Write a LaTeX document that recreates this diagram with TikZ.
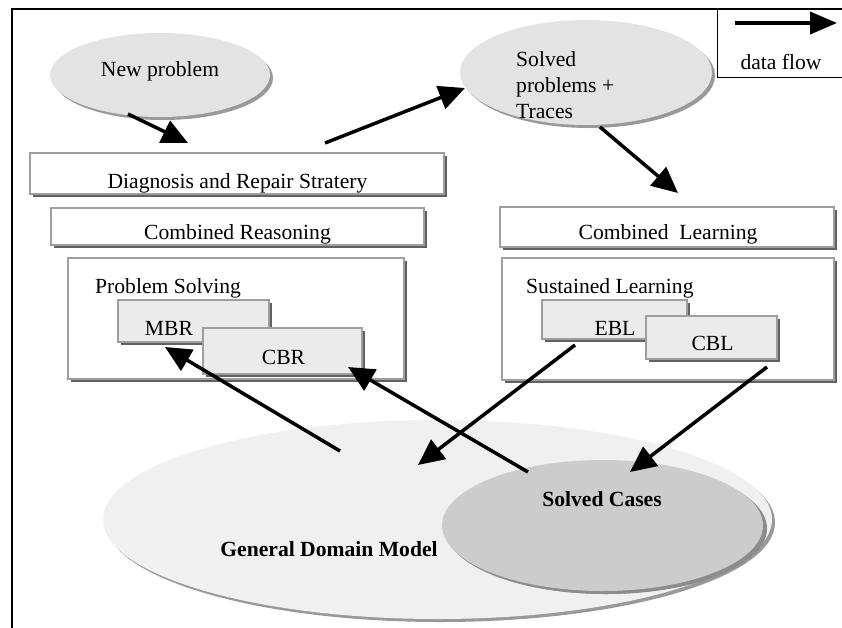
\documentclass[tikz,border=0pt]{standalone}
\usepackage{fontspec}
\setmainfont{Liberation Serif}
\usetikzlibrary{arrows.meta,shapes.geometric,shadows}
\begin{document}
\begin{tikzpicture}[x=1pt,y=-1pt,
  txt/.style={font=\fontsize{21.6}{26}\selectfont, inner sep=0pt, anchor=base},
  btxt/.style={txt, font=\fontsize{21.6}{26}\selectfont\bfseries},
  bevel/.style={rectangle, draw=black!38, line width=1.5pt, fill=white, inner sep=0pt, outer sep=0pt,
     general shadow={fill=black!62, shadow xshift=2.5pt, shadow yshift=-2.5pt}},
  subbox/.style={bevel, fill=black!8},
  oval/.style={ellipse, inner sep=0pt, outer sep=0pt, draw=none,
     general shadow={fill=black!40, shadow xshift=3pt, shadow yshift=-3pt}},
  flow/.style={line width=3.5pt, -{Triangle[length=26pt,width=24pt]}},
]
\useasboundingbox (0,0) rectangle (842,627);
\fill[white] (0,0) rectangle (842,627);
% outer frame
\draw[line width=1.6pt] (12,628) -- (12,9) -- (843,9);
% legend
\node[draw, line width=1.2pt, minimum width=127pt, minimum height=68pt, inner sep=0pt, anchor=north west] (legend) at (717,9) {};
\coordinate (lgs) at (735,23);
\coordinate (lge) at (837,23);
\draw[line width=4pt, -{Triangle[length=27pt,width=22pt]}] (lgs) -- (lge);
\node[txt] (lgt) at (781,69) {data flow};

% top ellipses
\node[oval, fill=black!11, minimum width=220pt, minimum height=84pt] (newp) at (160,75) {};
\node[txt] (newpt) at (160,76) {New problem};
\node[oval, fill=black!11, minimum width=252pt, minimum height=105pt] (solp) at (586,72.5) {};
\node[txt, anchor=north west, align=left] (solpt) at (516,51) {Solved\\problems +\\Traces};

% bottom ellipses
\node[oval, fill=black!6, minimum width=669pt, minimum height=199pt] (gdm) at (437.5,519.5) {};
\node[oval, fill=black!20, minimum width=321pt, minimum height=131pt,
      general shadow={fill=black!45, shadow xshift=4pt, shadow yshift=-3pt}] (sc) at (602.5,525.5) {};
\node[btxt] (gdmt) at (329,556) {General Domain Model};
\node[btxt] (sct) at (602,506) {Solved Cases};

% left column
\node[bevel, minimum width=414pt, minimum height=41pt] (diag) at (237,173.5) {};
\node[txt] (diagt) at (237.5,188) {Diagnosis and Repair Stratery};
\node[bevel, minimum width=373pt, minimum height=37pt] (creas) at (237.5,226.5) {};
\node[txt] (creast) at (237.5,239) {Combined Reasoning};
\node[bevel, minimum width=336pt, minimum height=121pt] (ps) at (236,318.5) {};
\node[txt, anchor=base west] (pst) at (95,293) {Problem Solving};
\node[subbox, minimum width=151pt, minimum height=42pt] (mbr) at (193.5,321) {};
\node[txt] (mbrt) at (169,335) {MBR};
\node[subbox, minimum width=159pt, minimum height=46pt] (cbr) at (282.5,351) {};
\node[txt] (cbrt) at (283.5,364) {CBR};

% right column
\node[bevel, minimum width=334pt, minimum height=40pt] (clearn) at (667,227) {};
\node[txt] (clearnt) at (668,239) {Combined\ \ Learning};
\node[bevel, minimum width=332pt, minimum height=122pt] (sl) at (668,319) {};
\node[txt, anchor=base west] (slt) at (526,293) {Sustained Learning};
\node[subbox, minimum width=145pt, minimum height=39pt] (ebl) at (614.5,319.5) {};
\node[txt] (eblt) at (615,335) {EBL};
\node[subbox, minimum width=131pt, minimum height=43pt] (cbl) at (711.5,337.5) {};
\node[txt] (cblt) at (712.5,350) {CBL};

% arrows
\coordinate (a1s) at (128,114);  \coordinate (a1e) at (188,143);
\coordinate (a2s) at (325,143);  \coordinate (a2e) at (465,88);
\coordinate (a3s) at (600,127);  \coordinate (a3e) at (678,193);
\coordinate (a4s) at (340,451);  \coordinate (a4e) at (165,347);
\coordinate (a5s) at (528,472);  \coordinate (a5e) at (348,367);
\coordinate (a6s) at (575,345);  \coordinate (a6e) at (418,465);
\coordinate (a7s) at (767,367);  \coordinate (a7e) at (630,472);
\draw[flow] (a1s) -- (a1e);
\draw[flow] (a2s) -- (a2e);
\draw[flow] (a3s) -- (a3e);
\draw[flow] (a4s) -- (a4e);
\draw[flow] (a5s) -- (a5e);
\draw[flow] (a6s) -- (a6e);
\draw[flow] (a7s) -- (a7e);
\end{tikzpicture}
\end{document}
